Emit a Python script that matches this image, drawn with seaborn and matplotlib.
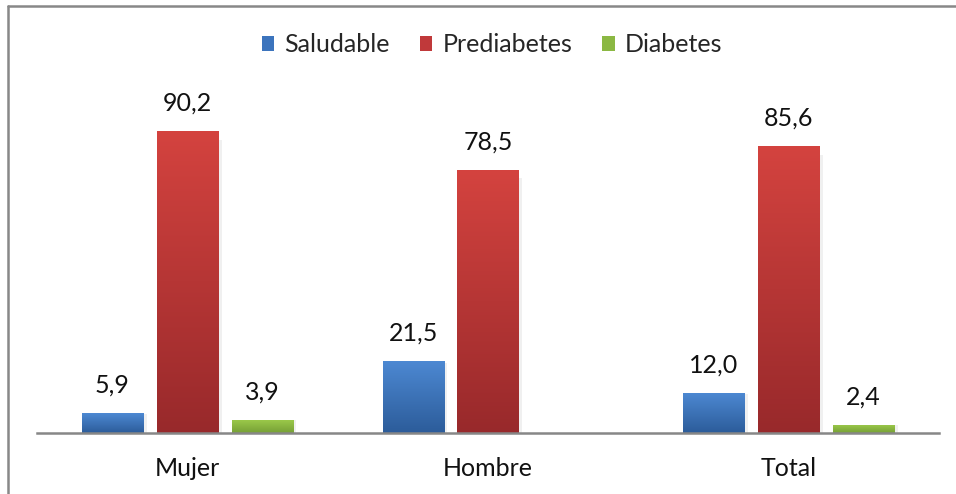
import numpy as np
import pandas as pd
import matplotlib
matplotlib.use("Agg")
import matplotlib.pyplot as plt
from matplotlib.colors import LinearSegmentedColormap
from matplotlib.patches import Rectangle
import seaborn as sns

# Data
categories = ["Mujer", "Hombre", "Total"]
series = ["Saludable", "Prediabetes", "Diabetes"]
saludable = [5.9, 21.5, 12.0]
prediabetes = [90.2, 78.5, 85.6]
diabetes = [3.9, np.nan, 2.4]

# Top / bottom colours of each bar gradient
top_colors = ["#4d89d3", "#d4433f", "#9dcb4b"]
bottom_colors = ["#2c5c9a", "#98292b", "#76a036"]
mid_colors = ["#3c74bd", "#c0393a", "#8bb843"]

df = pd.DataFrame({
    "grupo": categories * 3,
    "serie": [s for s in series for _ in categories],
    "valor": saludable + prediabetes + diabetes,
})

sns.set_theme(style="white")
plt.rcParams["font.family"] = ["Lato", "DejaVu Sans"]

FS = 18

fig = plt.figure(figsize=(9.56, 4.94), dpi=100)
ax = fig.add_axes([37 / 956, 61 / 494, (939 - 37) / 956, (433 - 98) / 494])

sns.barplot(data=df, x="grupo", y="valor", hue="serie", order=categories,
            hue_order=series, palette=mid_colors, width=0.747, gap=0.185,
            saturation=1, legend=False, ax=ax, errorbar=None)

# Replace flat fills with vertical gradients and add value labels
grad = np.linspace(1, 0, 256).reshape(-1, 1)
for container, s_idx in zip(ax.containers, range(len(series))):
    cmap = LinearSegmentedColormap.from_list(
        f"g{s_idx}", [bottom_colors[s_idx], top_colors[s_idx]])
    for patch in container.patches:
        h = patch.get_height()
        if not np.isfinite(h) or h <= 0:
            continue
        x0 = patch.get_x()
        w = patch.get_width()
        # soft shadow to the right of the bar
        ax.add_patch(Rectangle((x0 + w, 0), w * 0.06, h * 0.97,
                               facecolor="#000000", alpha=0.06,
                               edgecolor="none", zorder=1.5))
        patch.set_facecolor("none")
        im = ax.imshow(grad, cmap=cmap, aspect="auto",
                       extent=[x0, x0 + w, 0, h], zorder=2,
                       interpolation="bicubic")
        im.set_clip_path(patch)
        ax.annotate(f"{h:.1f}".replace(".", ","), (x0 + w / 2, h),
                    xytext=(0, 12), textcoords="offset points",
                    ha="center", va="bottom", fontsize=FS, color="#111111")

ax.set_xlim(-0.5, 2.5)
ax.set_ylim(0, 100)

for side in ["top", "right", "left"]:
    ax.spines[side].set_visible(False)
ax.spines["bottom"].set_color("#878787")
ax.spines["bottom"].set_linewidth(1.8)
ax.set_yticks([])
ax.set_xlabel("")
ax.set_ylabel("")
ax.tick_params(axis="x", length=0, pad=17, labelsize=FS, labelcolor="#111111")

# Legend
handles = [Rectangle((0, 0), 1, 1, facecolor=c, edgecolor="none") for c in mid_colors]
fig.legend(handles, series, loc="center", bbox_to_anchor=(492 / 956, 1 - 45 / 494),
           ncol=3, frameon=False, fontsize=FS, handlelength=0.5, handleheight=0.5,
           handletextpad=0.4, columnspacing=1.2)

# Frame lines at the top and left of the chart area
fig.add_artist(plt.Line2D([7.5 / 956, 1.0], [1 - 6 / 494, 1 - 6 / 494],
                          color="#888888", linewidth=1.8))
fig.add_artist(plt.Line2D([7.5 / 956, 7.5 / 956], [0, 1 - 6 / 494],
                          color="#888888", linewidth=1.8))

fig.savefig("out.png", dpi=100)
